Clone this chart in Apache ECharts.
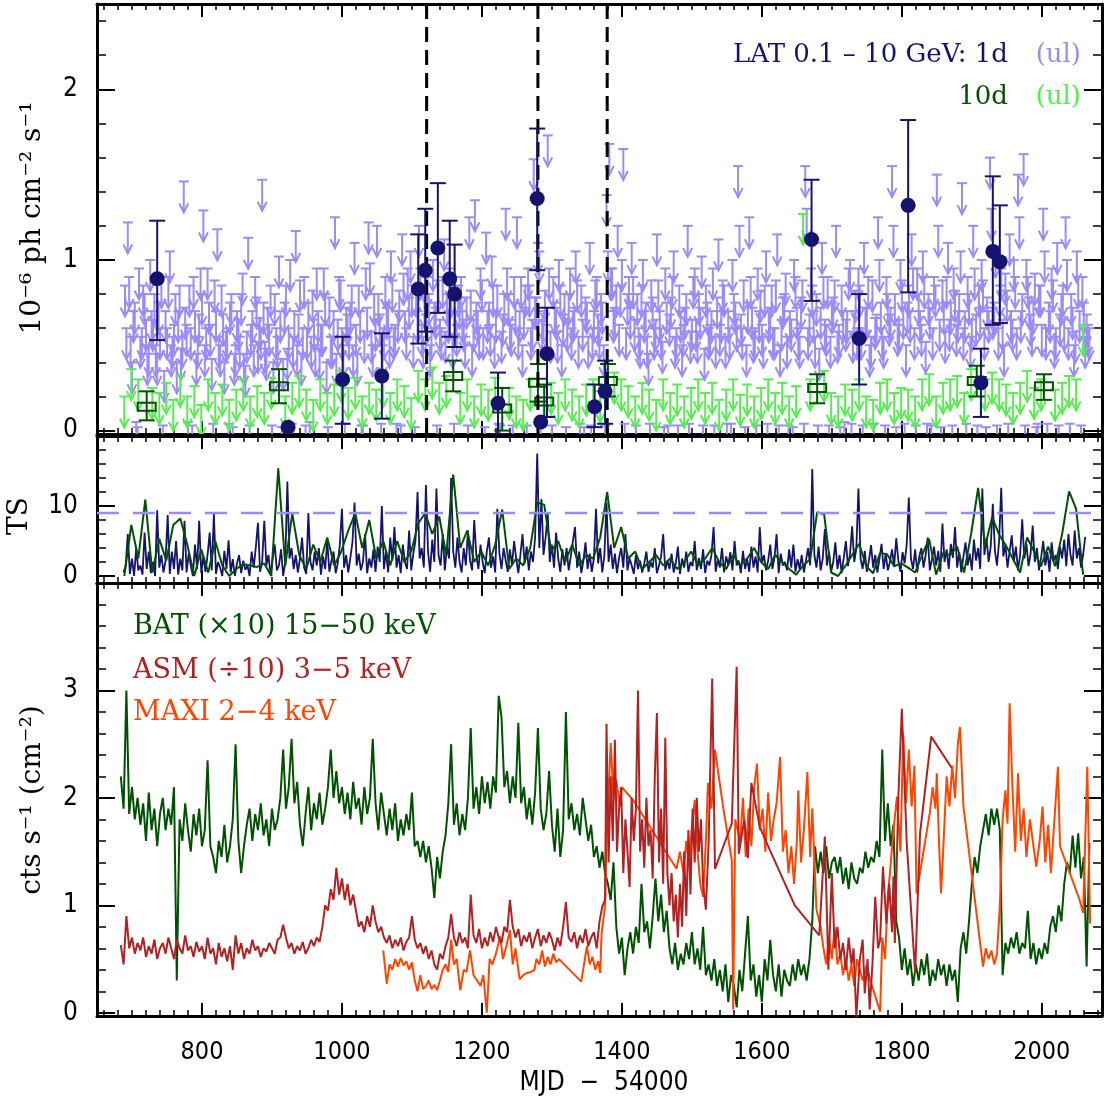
<!DOCTYPE html>
<html><head><meta charset="utf-8">
<script src="https://cdn.jsdelivr.net/npm/echarts@6/dist/echarts.min.js"></script>
<style>html,body{margin:0;padding:0;background:#fff}#c{width:1105px;height:1096px}</style>
</head><body><div id="c"></div>
<script>
// ---------------- DATA ----------------
// MJD-54000 axis range
const xMin = 650, xMax = 2086;
// vertical dashed lines (top panel)
const flareDays = [1121, 1280, 1379];

// LAT 1-day detections: [day, flux, low, high]  (1e-6 ph cm-2 s-1)
const lat1dDays = [736, 923, 1001, 1057, 1109, 1119, 1137, 1154, 1161, 1223, 1279, 1284, 1293, 1361, 1376, 1671, 1739, 1809, 1913, 1930, 1940];
const lat1dFlux = [0.89, 0.02, 0.30, 0.32, 0.83, 0.94, 1.07, 0.89, 0.80, 0.16, 1.36, 0.05, 0.45, 0.14, 0.23, 1.12, 0.54, 1.32, 0.28, 1.05, 0.99];
const lat1dLow  = [0.53, 0.02, 0.04, 0.07, 0.51, 0.58, 0.69, 0.55, 0.49, -0.02, 0.94, 0.05, 0.08, 0.02, 0.04, 0.76, 0.27, 0.81, 0.08, 0.62, 0.63];
const lat1dHigh = [1.23, 0.02, 0.55, 0.57, 1.15, 1.30, 1.45, 1.23, 1.09, 0.34, 1.77, 0.05, 0.72, 0.27, 0.41, 1.47, 0.80, 1.82, 0.48, 1.49, 1.32];

// LAT 10-day detections
const lat10dDays = [721, 910, 1159, 1229, 1280, 1289, 1380, 1679, 1907, 2003];
const lat10dFlux = [0.14, 0.26, 0.32, 0.13, 0.28, 0.17, 0.29, 0.25, 0.29, 0.26];
const lat10dLow  = [0.06, 0.16, 0.23, 0.00, 0.17, 0.08, 0.20, 0.16, 0.20, 0.18];
const lat10dHigh = [0.23, 0.36, 0.41, 0.25, 0.39, 0.27, 0.39, 0.33, 0.38, 0.33];

// LAT 1-day upper limits, every 4 days from day 690
const ul1dStart = 690, ul1dStep = 4;
const ul1dVals = [
0.85,1.22,0.55,0.7,0.05,0.95,0.6,0.8,0.45,1.0,
0.65,0.5,0.75,0.9,0.35,0.6,1.05,0.55,0.8,0.7,
0.48,1.46,0.62,0.85,0.03,0.7,0.55,0.95,1.29,0.6,
0.75,0.42,0.88,1.18,0.5,0.68,0.58,0.04,0.8,0.45,
0.7,0.55,0.92,0.38,1.13,0.62,0.5,0.78,0.66,1.47,
0.52,0.72,0.85,0.4,0.6,1.02,0.02,0.75,0.48,1.0,
0.55,1.17,0.68,0.45,0.9,0.6,0.05,0.82,0.5,0.7,
0.62,0.95,0.4,0.78,0.55,1.25,0.65,0.88,0.5,0.72,
0.6,0.85,1.1,0.45,0.7,0.03,0.95,1.22,0.58,0.8,
1.2,0.68,0.5,0.9,0.75,1.05,0.6,0.04,0.82,1.15,
0.7,0.95,1.05,0.55,0.85,1.2,0.62,0.78,0.9,0.5,
1.0,0.72,0.88,0.6,1.12,0.8,0.95,0.55,0.7,0.85,
0.9,0.65,0.78,1.25,0.5,1.35,0.7,0.95,0.6,1.16,
0.75,1.02,0.55,0.85,0.03,0.68,1.3,0.8,0.62,0.9,
1.25,0.7,0.5,0.85,0.95,0.6,1.59,0.78,1.05,0.65,
0.82,1.73,0.58,0.9,0.72,1.0,0.5,0.8,0.65,0.95,
0.7,1.05,0.55,0.85,0.02,0.75,1.1,0.6,0.88,0.68,
0.8,0.5,1.38,1.68,0.95,0.72,1.2,0.85,1.65,0.6,
0.9,1.1,0.65,0.8,0.55,1.0,0.75,0.45,0.88,0.6,
1.15,0.7,0.52,0.95,0.03,0.78,1.05,0.6,0.85,0.5,
0.72,1.2,0.58,0.9,0.65,0.8,1.02,0.48,0.75,0.62,
0.95,0.55,1.12,0.7,0.85,0.04,0.6,1.0,0.75,1.55,
0.68,0.88,0.5,1.25,0.72,0.6,0.95,0.82,0.55,1.05,
0.7,0.85,0.6,1.15,0.5,0.78,0.92,0.03,0.65,1.0,
0.72,0.55,0.88,1.55,0.6,0.95,0.7,0.8,0.48,1.1,
0.65,0.9,0.55,0.78,1.2,0.62,0.85,0.05,0.7,1.0,
0.58,0.82,0.95,0.6,1.1,0.72,0.5,0.88,0.66,1.25,
0.75,0.55,0.9,0.68,1.55,0.8,0.62,1.0,0.72,0.5,
0.85,1.15,0.6,0.95,0.7,1.05,0.52,0.8,0.03,0.9,
1.5,0.65,0.88,0.58,1.1,0.75,0.95,0.62,0.8,1.45,
0.7,0.9,0.55,1.2,0.68,0.85,1.0,0.6,0.78,1.6,
0.72,1.08,0.6,0.95,0.5,0.82,1.15,0.65,0.9,1.5,
0.7,1.62,1.0,0.78,0.62,0.92,0.04,0.85,1.3,0.6,
0.75,0.95,0.55,1.1,0.68,0.85,1.25,0.6,0.8,0.5,
1.05,0.7,0.9,0.55,0.62];
// second set of 1-day upper limits, every 4 days from day 692
const ul1dBStart = 692, ul1dBStep = 4;
const ul1dBVals = [
0.6,0.9,0.4,0.75,0.02,0.55,0.85,0.65,0.5,0.7,
0.8,0.45,0.6,0.03,0.7,0.9,0.5,0.62,0.4,0.85,
0.55,0.72,0.05,0.6,0.9,0.45,0.68,0.8,0.5,0.95,
0.62,0.04,0.7,0.55,0.85,0.4,0.6,0.75,0.02,0.5,
0.65,0.8,0.45,0.58,0.03,0.7,0.9,0.52,0.6,0.75,
0.48,0.62,0.03,0.8,0.55,0.7,0.42,0.85,0.6,0.04,
0.7,0.5,0.88,0.6,0.03,0.75,0.55,0.65,0.95,0.48,
0.62,0.8,0.02,0.55,0.7,0.45,0.9,0.6,0.04,0.68,
0.75,0.5,0.62,0.85,0.03,0.58,0.72,0.98,0.5,0.65,
0.8,0.04,0.6,0.72,0.55,0.88,0.62,0.7,0.03,0.92,
0.6,0.78,0.85,0.02,0.7,0.95,0.55,0.68,0.8,0.6,
0.75,0.03,0.65,0.9,0.58,0.7,0.85,0.04,0.62,0.78,
0.7,0.55,0.03,0.82,0.65,0.75,0.6,0.88,0.02,0.7,
0.62,0.85,0.7,0.04,0.58,0.8,0.95,0.65,0.03,0.75,
0.6,0.9,0.72,0.03,0.85,0.65,0.78,1.1,0.04,0.7,
0.62,0.95,0.03,0.75,0.58,0.85,0.68,0.02,0.8,0.6,
0.72,0.88,0.04,0.65,0.78,0.55,0.03,0.7,0.9,0.6,
0.75,0.03,1.05,0.95,0.7,0.85,0.62,1.0,0.04,0.8,
0.72,0.9,0.03,0.6,0.85,0.7,0.55,0.04,0.78,0.65,
0.88,0.6,0.02,0.75,0.68,0.9,0.55,0.03,0.7,0.62,
0.8,0.04,0.65,0.95,0.58,0.72,0.03,0.85,0.6,0.7,
0.03,0.78,0.62,0.88,0.55,0.7,0.04,0.8,0.65,1.2,
0.6,0.02,0.75,0.9,0.58,0.03,0.7,0.62,0.85,0.04,
0.72,0.6,0.88,0.03,0.65,0.8,0.55,0.7,0.02,0.9,
0.6,0.78,0.04,1.3,0.68,0.85,0.55,0.03,0.72,0.9,
0.62,0.03,0.75,0.88,0.58,0.02,0.7,0.65,0.95,0.04,
0.7,0.6,0.85,0.03,0.72,0.9,0.55,0.04,0.68,1.0,
0.6,0.03,0.8,0.72,1.2,0.02,0.65,0.88,0.04,0.75,
0.7,0.95,0.03,0.8,0.62,0.9,0.04,0.72,0.6,0.85,
1.2,0.02,0.75,0.9,0.65,0.03,0.82,0.7,1.05,0.6,
0.04,0.8,0.65,0.95,0.03,0.72,0.88,0.02,0.7,1.3,
0.75,0.03,0.85,0.65,0.92,0.04,0.7,1.0,0.6,1.25,
0.8,0.03,0.9,0.68,0.75,0.02,0.85,0.62,1.05,0.04,
0.7,0.88,0.6,0.03,0.8,0.65,1.0,0.04,0.72,0.58,
0.9,0.03,0.75,0.68,0.6];

// LAT 10-day bins from day 689 (step 10): upper limits (null = detection)
const bin10Start = 689, bin10Step = 10;
const ul10dVals = [
0.2,0.36,0.3,null,0.25,0.22,0.28,0.18,0.32,0.2,
0.26,0.15,0.3,0.22,0.27,0.18,0.24,0.3,0.2,0.26,
0.22,0.31,null,0.2,0.28,0.32,0.24,0.18,0.3,0.22,
0.27,0.35,0.25,0.31,0.2,0.28,0.24,0.32,0.22,0.3,
0.26,0.19,0.35,0.3,0.37,0.28,0.32,null,0.22,0.3,
0.2,0.27,0.24,0.31,null,0.25,0.2,0.18,0.3,null,
null,0.28,0.22,0.3,0.24,0.2,0.27,0.3,0.23,null,
0.34,0.3,0.26,0.2,0.28,0.24,0.18,0.3,0.22,0.27,
0.2,0.25,0.3,0.22,0.28,0.18,0.24,0.3,0.21,0.27,
0.2,0.25,0.3,0.22,0.28,0.2,0.26,1.27,0.3,null,
0.35,0.22,0.2,0.27,0.24,0.3,0.2,0.18,0.28,0.3,
0.22,0.25,0.24,0.2,0.3,0.33,0.2,0.28,0.3,0.32,
0.22,0.36,null,0.3,0.34,0.3,0.27,0.22,0.28,0.35,
0.25,0.3,null,0.24,0.28,0.32,0.3,0.62];

// TS 10-day bins (same bins)
const ts10dVals = [
0,7.3,2.5,10.9,0.5,5.3,2.2,7.3,8.2,4.5,
0,3.8,0.5,5.0,1.5,0,1.0,1.7,1.5,1.3,
1.8,0,15.4,1.5,8.9,
3.0,1.0,4.5,2.0,5.5,1.5,3.5,6.5,9.0,4.0,
8.0,2.5,5.0,1.5,5.0,2.0,3.5,7.5,9.0,6.0,
8.5,3.0,14.5,4.0,6.5,2.0,3.5,1.5,4.5,9.5,
1.0,2.5,1.5,4.0,10.5,10.2,3.5,5.0,2.0,4.5,
1.5,3.0,2.5,5.5,12.0,4.0,7.0,2.5,3.5,1.0,
2.0,3.0,1.5,2.5,1.0,2.0,3.5,1.5,2.5,4.0,
2.0,1.0,3.0,1.5,2.5,4.0,2.0,1.0,3.0,2.0,
1.0,
0.2,1.5,2.4,9.1,8.8,0.5,0,1.4,3.0,4.6,
1.4,0.4,3.3,3.1,1.4,1.8,1.2,0.5,3.0,5.3,
0.2,3.3,3.0,4.2,0.5,6.0,12.6,4.2,8.4,5.9,
4.3,2.4,0.5,5.5,3.5,1.4,4.2,1.4,6.0,12.1,
9.6,0.2];

// TS 1-day, every 3 days from day 688
const ts1dStart = 688, ts1dStep = 3;
const ts1dVals = [
0.5,1.5,6.0,0.3,2.5,0,4.0,0.8,1.5,0.2,
6.2,1.0,3.5,0.4,2.0,0,9.4,1.2,3.0,0.5,
2.2,8.7,0.3,3.5,1.0,5.0,0.2,2.5,0.8,7.9,
0.5,3.2,1.5,0,4.5,1.0,7.9,0.4,2.8,0.6,
3.0,6.2,0.8,8.9,0.3,2.0,1.2,0,3.6,1.0,
5.1,0.5,2.4,0,1.8,3.0,0.4,2.2,0.9,1.5,
0,3.5,1.2,4.2,7.6,0.6,2.0,7.9,1.5,3.0,
0.2,2.5,4.5,0.8,1.5,3.8,0,2.0,13.5,2.5,
4.0,1.0,3.0,0.5,2.5,5.5,1.2,0.3,9.0,2.0,
0.8,3.5,1.5,4.0,0.2,2.8,1.0,5.0,0.6,2.2,
3.5,0.4,1.8,4.5,9.6,1.2,3.0,0.5,2.6,4.8,
10.5,1.5,3.2,0.8,2.0,6.0,0.4,2.5,1.2,3.8,
0.6,4.2,2.0,10.0,1.0,3.5,0.5,5.5,2.2,7.0,
1.2,3.0,0.4,4.5,2.0,1.0,6.5,0.8,3.2,5.0,
12.0,2.5,4.0,1.2,13.0,3.5,0.6,5.2,2.0,12.5,
3.0,1.5,6.0,0.8,4.2,2.5,14.0,3.5,1.2,5.5,
2.0,0.5,4.0,1.5,6.5,2.2,0.8,8.0,3.0,1.0,
4.5,2.0,0.4,3.5,5.5,1.2,2.8,0.5,9.6,3.2,
1.0,4.0,2.2,0.6,3.8,1.5,5.0,2.5,0.4,3.0,
6.0,1.8,4.2,0.8,3.5,2.0,5.5,17.5,4.0,11.0,
3.0,5.5,9.0,2.0,4.5,1.2,6.2,2.5,0.6,3.8,
1.5,4.0,0.8,2.8,5.0,7.0,1.2,3.5,0.4,2.2,
4.8,1.0,3.2,0.6,2.5,9.6,1.8,4.0,0.5,3.0,
10.5,2.0,4.5,1.0,3.2,0.4,2.6,4.0,1.2,6.0,
0.8,2.5,1.5,0.3,3.0,1.0,2.2,0.5,1.8,3.5,
0.6,2.0,1.2,4.0,0.4,1.5,2.8,6.0,0.8,2.2,
1.0,3.2,0.5,1.8,4.2,0.3,2.5,1.2,3.5,0.6,
2.0,1.4,5.0,0.8,2.6,1.0,3.8,0.4,2.2,1.5,
3.0,7.0,0.6,2.4,1.2,4.0,0.5,2.8,1.6,3.4,
0.8,5.0,1.5,2.2,0.4,3.6,1.0,2.4,0.6,4.2,
1.2,2.8,0.5,7.0,1.8,3.0,0.8,2.2,4.5,1.0,
2.6,6.0,0.4,3.2,1.5,2.0,0.8,3.8,1.2,4.5,
0.6,2.4,1.0,3.0,0.5,2.2,4.0,1.5,15.3,3.0,
1.2,4.2,0.8,2.5,6.7,1.5,3.5,0.6,2.0,4.8,
1.0,3.0,0.4,2.6,5.0,1.4,3.2,7.1,2.0,4.0,
12.5,2.5,1.0,3.6,0.6,2.2,4.4,1.2,3.0,0.5,
2.4,4.6,1.0,3.2,0.8,2.0,3.8,1.4,5.4,2.2,
0.6,3.4,1.8,4.6,11.2,2.5,1.0,3.8,0.5,2.8,
4.0,1.2,3.0,5.5,0.8,2.4,4.2,1.5,3.6,0.6,
7.5,2.0,3.8,1.0,4.6,2.6,7.0,1.2,3.4,0.5,
2.8,4.8,1.5,3.2,0.8,5.2,2.2,4.0,1.0,12.5,
3.0,5.5,2.0,4.2,10.3,3.6,1.5,5.0,12.6,2.8,
4.4,1.2,3.5,5.8,2.0,4.2,0.8,3.0,8.1,2.5,
4.6,1.4,3.2,7.2,2.0,4.0,0.8,2.6,5.0,1.5,
3.4,0.6,4.8,2.2,3.0,1.0,4.2,2.5,5.2,1.4,
6.0,3.0,1.5,6.5,2.5,4.0,1.2,3.0,5.6];
const tsThreshold = 9;

// Swift/BAT (x10), every 4 days from day 684
const batStart = 684, batStep = 4;
const batVals = [
2.2,1.9,3.0,1.85,2.1,1.8,2.0,1.75,1.95,1.6,2.05,1.7,1.9,1.55,1.85,2.0,1.7,1.9,1.75,2.1,
0.3,
1.8,1.6,1.95,1.7,1.5,1.85,1.65,1.9,1.55,
1.7,2.35,1.55,1.45,1.3,1.6,1.45,1.75,1.4,1.55,1.8,2.5,1.6,1.3,1.55,1.75,
1.9,1.6,1.85,1.7,1.95,1.65,1.8,1.55,1.9,1.7,1.8,2.0,
2.45,1.9,2.1,2.55,1.95,2.15,1.75,1.55,1.85,2.1,1.7,1.95,1.8,2.05,1.75,
1.9,2.1,2.45,2.0,2.25,1.95,2.1,1.85,2.05,1.8,2.15,1.9,2.0,1.75,2.1,1.85,2.0,2.55,
1.95,1.7,2.05,1.85,1.65,1.9,1.7,1.95,1.6,1.8,1.65,1.85,1.7,
2.05,1.55,1.6,1.45,1.6,1.4,1.55,1.35,1.07,1.45,1.25,1.5,1.65,1.95,2.5,
1.75,1.95,1.65,1.85,1.7,2.0,2.65,1.9,2.1,1.85,2.2,1.95,2.15,1.9,2.2,2.05,2.95,
2.75,2.1,2.25,1.95,2.2,2.0,2.7,1.95,2.1,1.8,2.0,1.75,2.05,2.65,1.9,1.7,1.85,2.25,
1.75,1.5,1.9,1.45,1.7,2.8,1.8,1.95,1.7,1.85,1.65,2.0,1.8,
1.6,1.75,1.45,1.55,1.35,1.5,1.3,1.2,
1.05,1.4,0.8,0.55,0.7,0.35,0.6,0.75,0.55,0.8,0.65,1.2,0.75,0.85,0.6,0.9,
1.25,0.85,1.1,0.75,0.95,0.6,0.45,0.65,0.4,0.55,0.45,0.65,
0.5,0.75,0.45,0.6,0.4,0.8,0.35,0.45,0.3,0.5,0.25,0.4,
0.2,0.45,0.1,0.35,0.25,0.05,0.4,0.2,0.55,0.9,0.3,0.45,0.15,0.35,0.1,0.5,0.3,0.68,
0.35,0.2,0.45,0.15,0.4,0.3,0.25,0.45,0.3,0.5,0.35,0.45,0.3,0.5,
0.85,1.55,1.3,1.5,1.3,1.55,1.25,1.4,1.45,1.3,
1.45,1.2,1.35,1.15,1.4,1.25,1.2,1.35,1.3,1.5,1.35,1.45,1.4,1.6,1.45,
2.45,1.6,1.95,1.55,1.75,0.85,
0.7,0.4,0.6,0.35,0.5,0.25,0.45,0.3,0.5,0.35,0.55,0.25,0.4,0.3,0.5,0.35,0.45,0.25,0.45,0.3,0.4,0.1,
0.6,0.75,0.55,0.85,1.2,1.45,1.3,1.55,1.7,1.85,1.65,1.9,1.75,1.9,1.7,0.35,
0.65,0.55,0.7,0.6,0.75,0.55,0.65,0.6,0.95,0.5,0.65,0.45,0.6,0.5,0.65,0.55,0.8,0.9,0.75,1.0,0.85,1.2,1.4,1.3,1.65,1.35,1.67,1.25,1.45,0.43,1.58];

// RXTE/ASM (/10): every 4 days from 684 to 1376, then irregular sampling
const asmStart = 684, asmStep = 4;
const asmVals = [
0.63,0.45,0.9,0.6,0.7,0.55,0.65,0.58,0.7,0.52,
0.62,0.55,0.68,0.5,0.6,0.65,0.55,0.7,0.6,0.5,
0.68,0.6,0.55,0.72,0.58,0.62,0.52,0.66,0.57,
0.62,0.5,0.7,0.55,0.6,0.45,0.65,0.52,0.6,0.48,
0.62,0.4,0.72,0.55,0.65,0.5,0.6,0.55,0.68,0.58,
0.62,0.52,0.6,0.57,0.65,0.6,0.55,0.68,0.7,0.82,
0.7,0.6,0.65,0.55,0.62,0.58,0.66,0.55,0.6,0.68,
0.62,0.7,0.66,0.8,1.0,0.95,1.15,1.05,1.35,1.1,
1.25,1.05,1.2,1.0,1.1,0.95,0.8,0.85,0.75,0.9,
0.8,1.0,0.85,0.75,0.8,0.7,0.65,0.72,0.6,0.68,
0.62,0.7,0.58,0.66,0.7,0.9,0.68,0.6,0.65,0.55,
0.62,0.5,0.58,0.45,0.4,0.55,0.5,0.62,0.7,0.92,
0.7,0.62,0.75,0.65,0.7,0.6,1.1,0.72,0.65,0.78,
0.6,0.7,0.62,0.75,0.66,0.8,0.7,0.65,0.8,0.75,
1.05,0.8,0.7,0.78,0.62,0.72,0.66,0.75,0.6,0.7,
0.78,0.62,0.72,0.65,0.75,0.68,0.58,0.7,0.62,0.8,
1.03,0.7,0.66,0.75,0.6,0.72,0.65,0.78,0.62,0.7,
0.75,0.6,0.85,0.99,1.05];
const asmLateDays = [1378,1381,1384,1387,1390,1393,1396,1399,1402,1405,1408,1411,1414,1417,1420,1423,1426,1429,1432,1435,1438,1441,1444,1447,1450,1453,1456,1459,1462,1465,1468,1471,1474,1477,1480,1483,1486,1489,1492,1495,1498,1501,1504,1507,1510,1513,1516,1520,1524,1529,1533,1545,1557,1564,1567,1575,1580,1585,1597,1611,1647,1682,1690,1695,1700,1704,1708,1712,1716,1720,1724,1728,1731,1735,1740,1744,1747,1751,1754,1758,1762,1766,1769,1773,1778,1782,1786,1788,1790,1795,1800,1807,1819,1826,1842,1871];
const asmLateVals = [2.69,1.4,2.2,1.6,2.54,1.5,1.9,2.1,1.3,1.8,1.5,1.17,2.0,1.6,1.9,3.0,1.5,1.8,1.35,2.0,1.55,1.7,1.25,2.2,2.79,1.4,1.9,1.2,2.56,1.3,1.0,1.3,0.85,1.1,0.7,1.2,0.8,1.5,0.9,1.7,1.1,1.9,1.4,2.0,1.5,1.8,1.2,0.96,1.6,3.11,1.34,1.55,1.76,3.22,1.48,1.8,1.44,2.14,1.73,1.52,1.0,0.72,1.64,0.4,1.3,0.6,0.8,0.5,0.65,0.4,0.7,0.45,0.6,-0.04,0.5,0.68,0.18,0.5,0.03,0.45,1.08,0.6,0.68,1.36,0.83,1.2,0.75,1.27,0.65,2.01,2.83,1.58,0.37,1.67,2.57,2.28];

// MAXI 2-4 keV: irregular sampling
const maxiDays = [1059,1064,1068,1072,1076,1080,1084,1088,1092,1096,1100,1104,1108,1112,1116,1120,1124,1128,1132,1136,1140,1144,1148,1152,1156,1160,1164,1169,1174,1178,1183,1188,1193,1198,1202,1207,1211,1215,1220,1226,1230,1235,1240,1244,1248,1252,1254,1259,1264,1270,1275,1278,1282,1286,1290,1294,1298,1302,1306,1310,1316,1342,1350,1354,1358,1362,1366,1369,1371,1376,1378,1384,1388,1392,1397,1400,1416,1478,1483,1488,1492,1496,1500,1504,1508,1512,1516,1520,1523,1528,1533,1545,1557,1559,1562,1569,1573,1577,1581,1585,1589,1593,1597,1601,1605,1609,1613,1617,1621,1626,1630,1634,1638,1642,1646,1650,1652,1656,1660,1665,1669,1672,1678,1684,1688,1692,1696,1700,1704,1708,1712,1716,1720,1724,1728,1732,1736,1740,1744,1750,1755,1769,1772,1776,1780,1783,1788,1793,1798,1802,1806,1810,1814,1818,1821,1840,1844,1848,1850,1853,1856,1859,1864,1868,1872,1876,1880,1883,1888,1916,1920,1924,1928,1932,1936,1940,1944,1948,1951,1954,1958,1962,1966,1970,1974,1978,1983,1992,1997,2001,2005,2009,2013,2016,2023,2026,2054,2059,2065,2069];
const maxiVals = [0.58,0.27,0.45,0.4,0.5,0.43,0.51,0.44,0.48,0.4,0.47,0.3,0.2,0.35,0.22,0.25,0.3,0.22,0.26,0.21,0.3,0.4,0.45,0.38,0.68,0.45,0.5,0.21,0.4,0.38,0.58,0.35,0.3,0.25,0.35,0.0,0.5,0.45,0.55,0.71,0.5,0.62,0.77,0.45,0.6,0.4,0.31,0.35,0.37,0.38,0.4,0.5,0.45,0.58,0.43,0.52,0.45,0.55,0.47,0.5,0.46,0.29,0.62,0.45,0.52,0.4,0.48,0.37,0.74,1.0,1.61,2.51,2.0,2.17,1.92,2.1,1.98,1.34,1.5,1.3,1.6,1.4,1.73,1.98,1.5,1.2,1.08,1.6,2.14,1.9,2.45,1.9,1.42,0.03,1.8,1.6,2.0,1.45,1.9,1.55,2.1,2.32,1.7,1.9,1.5,2.05,1.6,1.8,1.95,2.38,1.5,1.7,1.3,1.55,1.2,1.6,2.07,1.4,1.7,2.24,1.45,1.9,0.96,0.8,0.6,0.45,0.7,0.5,0.8,0.45,0.55,0.35,0.5,0.3,0.45,0.25,0.5,0.4,0.3,0.45,0.3,0.01,0.7,0.5,1.1,1.3,1.7,2.01,1.5,2.6,1.95,2.45,1.92,2.3,1.11,1.86,2.1,1.9,2.23,1.61,1.11,1.5,2.2,1.92,2.3,2.0,2.5,2.66,1.92,0.43,0.6,0.5,0.58,0.45,0.55,0.99,1.8,2.07,1.76,2.88,2.1,1.5,2.23,1.6,1.9,1.45,1.8,1.36,1.6,1.92,1.4,1.75,1.3,1.6,2.29,1.55,1.05,0.93,2.29,0.83];

// ---------------- STYLE ----------------
const NAVY = '#14146e', LPURP = '#9a8cf8', LGREEN = '#55ee4f', DGREEN = '#005200';
const BATC = '#005200', ASMC = '#b22222', MAXIC = '#ff4500';
const NARROW = "'Liberation Sans Narrow','DejaVu Sans Condensed','Arial Narrow',sans-serif";
const SERIF = "'DejaVu Serif','Liberation Serif',serif";

const chart = echarts.init(document.getElementById('c'), null, {renderer: 'canvas'});

const grids = [
  {left: 97, right: 3, top: 4, height: 430},
  {left: 97, right: 3, top: 436, height: 147},
  {left: 97, right: 3, top: 583, height: 433}
];

function xAx(g, pos, labels) {
  return {
    type: 'value', gridIndex: g, position: pos, min: xMin, max: xMax, splitNumber: 7,
    axisLine: {show: true, onZero: false, lineStyle: {color: '#000', width: 3}},
    axisTick: {show: true, inside: true, length: 13, lineStyle: {color: '#000', width: 2}},
    minorTick: {show: true, splitNumber: 10, length: 6, lineStyle: {color: '#000', width: 1.5}},
    splitLine: {show: false}, minorSplitLine: {show: false},
    axisLabel: {show: labels, color: '#000', fontFamily: NARROW, fontSize: 25, margin: 24,
      formatter: v => (Math.abs(v / 200 - Math.round(v / 200)) < 1e-6 ? String(Math.round(v)) : '')}
  };
}
function yAx(g, pos, min, max, split, labelMax, labels) {
  return {
    type: 'value', gridIndex: g, position: pos, min: min, max: max, splitNumber: split,
    axisLine: {show: true, onZero: false, lineStyle: {color: '#000', width: 3}},
    axisTick: {show: true, inside: true, length: 18, lineStyle: {color: '#000', width: 2}},
    minorTick: {show: true, splitNumber: 5, length: 9, lineStyle: {color: '#000', width: 1.5}},
    splitLine: {show: false}, minorSplitLine: {show: false},
    axisLabel: {show: labels, color: '#000', fontFamily: NARROW, fontSize: 26, margin: 19,
      formatter: v => (Math.abs(v - Math.round(v)) < 1e-6 && v >= 0 && v <= labelMax + 1e-6 ? String(Math.round(v)) : '')}
  };
}

const xAxes = [
  xAx(0, 'bottom', false), xAx(0, 'top', false),
  xAx(1, 'bottom', false), xAx(1, 'top', false),
  xAx(2, 'bottom', true), xAx(2, 'top', false)
];
const yAxes = [
  yAx(0, 'left', -0.02, 2.5, 3, 2, true), yAx(0, 'right', -0.02, 2.5, 3, 2, false),
  yAx(1, 'left', -1, 20, 2, 10, true), yAx(1, 'right', -1, 20, 2, 10, false),
  yAx(2, 'left', -0.03, 4, 4, 3, true), yAx(2, 'right', -0.03, 4, 4, 3, false)
];

// ---------- build data ----------
const ul1dData = ul1dVals.map((v, i) => [ul1dStart + i * ul1dStep, v])
  .concat(ul1dBVals.map((v, i) => [ul1dBStart + i * ul1dBStep, v]));
const ul10dData = ul10dVals.map((v, i) => [bin10Start + i * bin10Step, v]).filter(d => d[1] !== null);
const ts10dData = ts10dVals.map((v, i) => [bin10Start + i * bin10Step, v]);
const ts1dData = ts1dVals.map((v, i) => [ts1dStart + i * ts1dStep, v]);
const batData = batVals.map((v, i) => [batStart + i * batStep, v]);
const asmData = asmVals.map((v, i) => [asmStart + i * asmStep, v]).concat(asmLateDays.map((d, i) => [d, asmLateVals[i]]));
const maxiData = maxiDays.map((d, i) => [d, maxiVals[i]]);
const det1d = lat1dDays.map((d, i) => [d, lat1dFlux[i], lat1dLow[i], lat1dHigh[i]]);
const det10d = lat10dDays.map((d, i) => [d, lat10dFlux[i], lat10dLow[i], lat10dHigh[i]]);

function ulRender(color) {
  return function (params, api) {
    const p = api.coord([api.value(0), api.value(1)]);
    const L = 31, cw = 5, hw = 4.5, hh = 9;
    const st = {stroke: color, lineWidth: 2, fill: null};
    return {type: 'group', children: [
      {type: 'line', shape: {x1: p[0] - cw, y1: p[1], x2: p[0] + cw, y2: p[1]}, style: st},
      {type: 'line', shape: {x1: p[0], y1: p[1], x2: p[0], y2: p[1] + L}, style: st},
      {type: 'polyline', shape: {points: [[p[0] - hw, p[1] + L - hh], [p[0], p[1] + L], [p[0] + hw, p[1] + L - hh]]}, style: st}
    ]};
  };
}
function errRender(color, kind) {
  return function (params, api) {
    const x = api.value(0);
    const pc = api.coord([x, api.value(1)]);
    const pl = api.coord([x, api.value(2)]);
    const ph = api.coord([x, api.value(3)]);
    const cw = 8;
    const st = {stroke: color, lineWidth: 2, fill: null};
    const ch = [];
    if (Math.abs(pl[1] - ph[1]) > 1) {
      ch.push({type: 'line', shape: {x1: pc[0], y1: pl[1], x2: pc[0], y2: ph[1]}, style: st});
      ch.push({type: 'line', shape: {x1: pc[0] - cw, y1: pl[1], x2: pc[0] + cw, y2: pl[1]}, style: st});
      ch.push({type: 'line', shape: {x1: pc[0] - cw, y1: ph[1], x2: pc[0] + cw, y2: ph[1]}, style: st});
    }
    if (kind === 'circle') ch.push({type: 'circle', shape: {cx: pc[0], cy: pc[1], r: 7.5}, style: {fill: color}});
    else ch.push({type: 'rect', shape: {x: pc[0] - 9, y: pc[1] - 4, width: 18, height: 8}, style: {stroke: color, lineWidth: 2, fill: null}});
    return {type: 'group', children: ch};
  };
}

const option = {
  backgroundColor: '#fff',
  animation: false,
  grid: grids,
  xAxis: xAxes,
  yAxis: yAxes,
  series: [
    {type: 'custom', name: 'ul1d', xAxisIndex: 0, yAxisIndex: 0, data: ul1dData, renderItem: ulRender(LPURP), clip: true, silent: true, z: 2},
    {type: 'custom', name: 'ul10d', xAxisIndex: 0, yAxisIndex: 0, data: ul10dData, renderItem: ulRender(LGREEN), clip: true, silent: true, z: 3},
    {type: 'custom', name: 'det10d', xAxisIndex: 0, yAxisIndex: 0, data: det10d, renderItem: errRender(DGREEN, 'rect'), clip: true, silent: true, z: 4},
    {type: 'custom', name: 'flares', xAxisIndex: 0, yAxisIndex: 0, data: flareDays.map(d => [d, 0]), silent: true, z: 5,
      renderItem: function (params, api) {
        const p = api.coord([api.value(0), 0]);
        const cs = params.coordSys;
        return {type: 'line', shape: {x1: p[0], y1: cs.y, x2: p[0], y2: cs.y + cs.height}, style: {stroke: '#000', lineWidth: 3, lineDash: [15, 8]}};
      }},
    {type: 'custom', name: 'det1d', xAxisIndex: 0, yAxisIndex: 0, data: det1d, renderItem: errRender(NAVY, 'circle'), clip: true, silent: true, z: 6},

    {type: 'line', name: 'ts1d', xAxisIndex: 2, yAxisIndex: 2, data: ts1dData, showSymbol: false, symbol: 'none',
      lineStyle: {color: NAVY, width: 1.8}, silent: true, z: 2},
    {type: 'line', name: 'ts10d', xAxisIndex: 2, yAxisIndex: 2, data: ts10dData, showSymbol: false, symbol: 'none',
      lineStyle: {color: DGREEN, width: 2}, silent: true, z: 3},
    {type: 'line', name: 'tsthr', xAxisIndex: 2, yAxisIndex: 2, data: [[xMin, tsThreshold], [xMax, tsThreshold]], showSymbol: false, symbol: 'none',
      lineStyle: {color: LPURP, width: 2.5, type: [22, 14]}, silent: true, z: 4},

    {type: 'line', name: 'BAT', xAxisIndex: 4, yAxisIndex: 4, data: batData, showSymbol: false, symbol: 'none',
      lineStyle: {color: BATC, width: 2}, silent: true, z: 2},
    {type: 'line', name: 'MAXI', xAxisIndex: 4, yAxisIndex: 4, data: maxiData, showSymbol: false, symbol: 'none',
      lineStyle: {color: MAXIC, width: 2}, silent: true, z: 3},
    {type: 'line', name: 'ASM', xAxisIndex: 4, yAxisIndex: 4, data: asmData, showSymbol: false, symbol: 'none',
      lineStyle: {color: ASMC, width: 2}, silent: true, z: 4}
  ],
  graphic: [
    {type: 'text', x: 1008, y: 55, style: {text: 'LAT 0.1 – 10 GeV: 1d', fill: NAVY, font: '26px ' + SERIF, align: 'right', verticalAlign: 'middle'}},
    {type: 'text', x: 1081, y: 55, style: {text: '(ul)', fill: LPURP, font: '26px ' + SERIF, align: 'right', verticalAlign: 'middle'}},
    {type: 'text', x: 1008, y: 97, style: {text: '10d', fill: DGREEN, font: '26px ' + SERIF, align: 'right', verticalAlign: 'middle'}},
    {type: 'text', x: 1081, y: 97, style: {text: '(ul)', fill: LGREEN, font: '26px ' + SERIF, align: 'right', verticalAlign: 'middle'}},

    {type: 'text', x: 133, y: 627, style: {text: 'BAT (×10) 15−50 keV', fill: BATC, font: '27px ' + SERIF, align: 'left', verticalAlign: 'middle'}},
    {type: 'text', x: 133, y: 671, style: {text: 'ASM (÷10) 3−5 keV', fill: ASMC, font: '27px ' + SERIF, align: 'left', verticalAlign: 'middle'}},
    {type: 'text', x: 133, y: 713, style: {text: 'MAXI 2−4 keV', fill: MAXIC, font: '27px ' + SERIF, align: 'left', verticalAlign: 'middle'}},

    {type: 'text', x: 33, y: 218, rotation: Math.PI / 2, style: {text: '10⁻⁶ ph cm⁻² s⁻¹', fill: '#000', font: '28px ' + SERIF, align: 'center', verticalAlign: 'middle'}},
    {type: 'text', x: 20, y: 516, rotation: Math.PI / 2, style: {text: 'TS', fill: '#000', font: '28px ' + SERIF, align: 'center', verticalAlign: 'middle'}},
    {type: 'text', x: 33, y: 800, rotation: Math.PI / 2, style: {text: 'cts s⁻¹ (cm⁻²)', fill: '#000', font: '28px ' + SERIF, align: 'center', verticalAlign: 'middle'}},
    {type: 'text', x: 604, y: 1083, style: {text: 'MJD  −  54000', fill: '#000', font: '26px ' + NARROW, align: 'center', verticalAlign: 'middle'}}
  ]
};
chart.setOption(option);
</script>
</body></html>
